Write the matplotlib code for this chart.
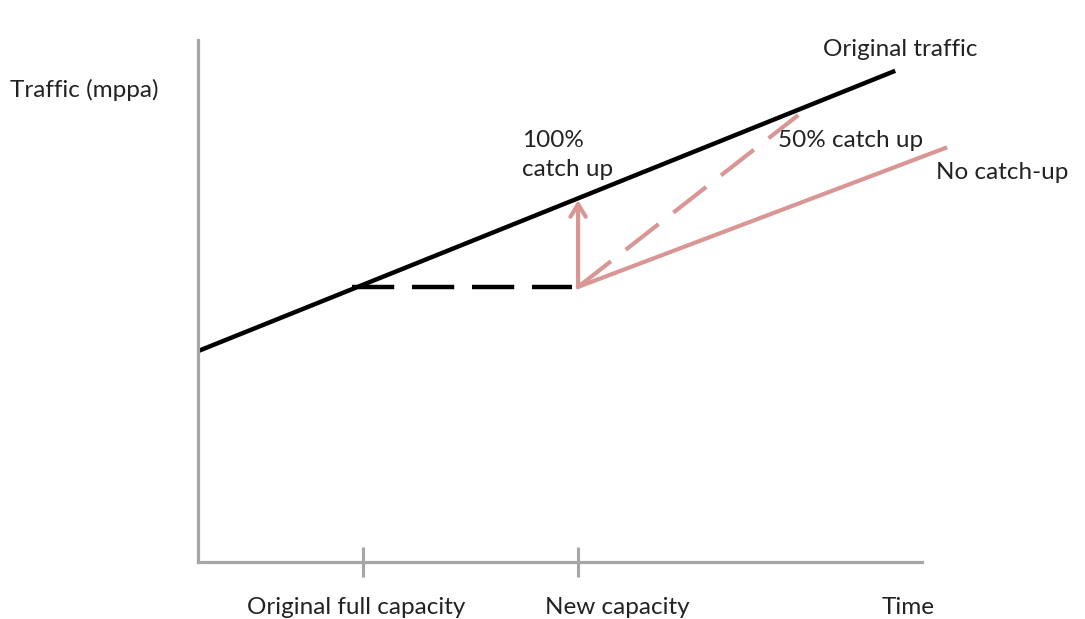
# Diagrama: tráfico original frente a capacidad nueva (catch up)
import matplotlib
matplotlib.use("Agg")
import matplotlib.pyplot as plt

# ----------- Datos (unidades arbitrarias: tiempo 0-100, tráfico 0-100) -----------
trafico_t = [0.0, 96.3]
trafico_y = [40.4, 94.1]

capacidad_t = [21.3, 51.7]       # tramo plano a capacidad original
capacidad_y = [52.7, 52.7]

sin_catchup_t = [52.5, 103.2]
sin_catchup_y = [52.7, 79.3]

catchup50_t = [52.5, 82.9]
catchup50_y = [52.7, 85.6]

catchup100_t = 52.5
catchup100_y = [52.7, 69.3]

ticks_t = [22.8, 52.5]

# ----------- Colores -------------
NEGRO = "#000000"
ROSA = "#D99694"
GRIS = "#A6A6A6"

plt.rcParams['font.family'] = ['Lato', 'DejaVu Sans']

fig = plt.figure(figsize=(10.85, 6.19), dpi=100, facecolor="white")
W, H = 1085, 619
ax = fig.add_axes([198 / W, 1 - 562 / H, (922 - 198) / W, (562 - 40) / H])
ax.set_xlim(0, 100)
ax.set_ylim(0, 100)

for lado in ["top", "right"]:
    ax.spines[lado].set_visible(False)
for lado in ["left", "bottom"]:
    ax.spines[lado].set_color(GRIS)
    ax.spines[lado].set_linewidth(2.3)

ax.set_yticks([])
ax.set_xticks(ticks_t)
ax.set_xticklabels([])
ax.tick_params(axis="x", direction="inout", length=22, width=2.2, color=GRIS)

# lineas
ax.plot(trafico_t, trafico_y, color=NEGRO, linewidth=3.2, solid_capstyle="butt")
ax.plot(capacidad_t, capacidad_y, color=NEGRO, linewidth=3.2, dashes=(9.5, 4))
ax.plot(sin_catchup_t, sin_catchup_y, color=ROSA, linewidth=3, clip_on=False)
ax.plot(catchup50_t, catchup50_y, color=ROSA, linewidth=3, dashes=(10, 4.5), clip_on=False)
ax.annotate("", xy=(catchup100_t, catchup100_y[1]), xytext=(catchup100_t, catchup100_y[0]),
            arrowprops=dict(arrowstyle="->,head_length=0.9,head_width=0.55",
                            color=ROSA, linewidth=3, shrinkA=0, shrinkB=0))

# textos
fs = 17.5
txt = dict(fontsize=fs, color="#222222", clip_on=False, va="center")
ax.text(-26.0, 90.4, "Traffic (mppa)", ha="left", **txt)
ax.text(44.8, 80.8, "100%", ha="left", **txt)
ax.text(44.8, 75.1, "catch up", ha="left", **txt)
ax.text(86.3, 98.1, "Original traffic", ha="left", **txt)
ax.text(80.1, 80.7, "50% catch up", ha="left", **txt)
ax.text(101.9, 74.7, "No catch-up", ha="left", **txt)
ax.text(21.8, -8.8, "Original full capacity", ha="center", **txt)
ax.text(47.9, -8.8, "New capacity", ha="left", **txt)
ax.text(98.1, -8.8, "Time", ha="center", **txt)

plt.savefig("out.png", dpi=100, facecolor="white")
plt.close()
